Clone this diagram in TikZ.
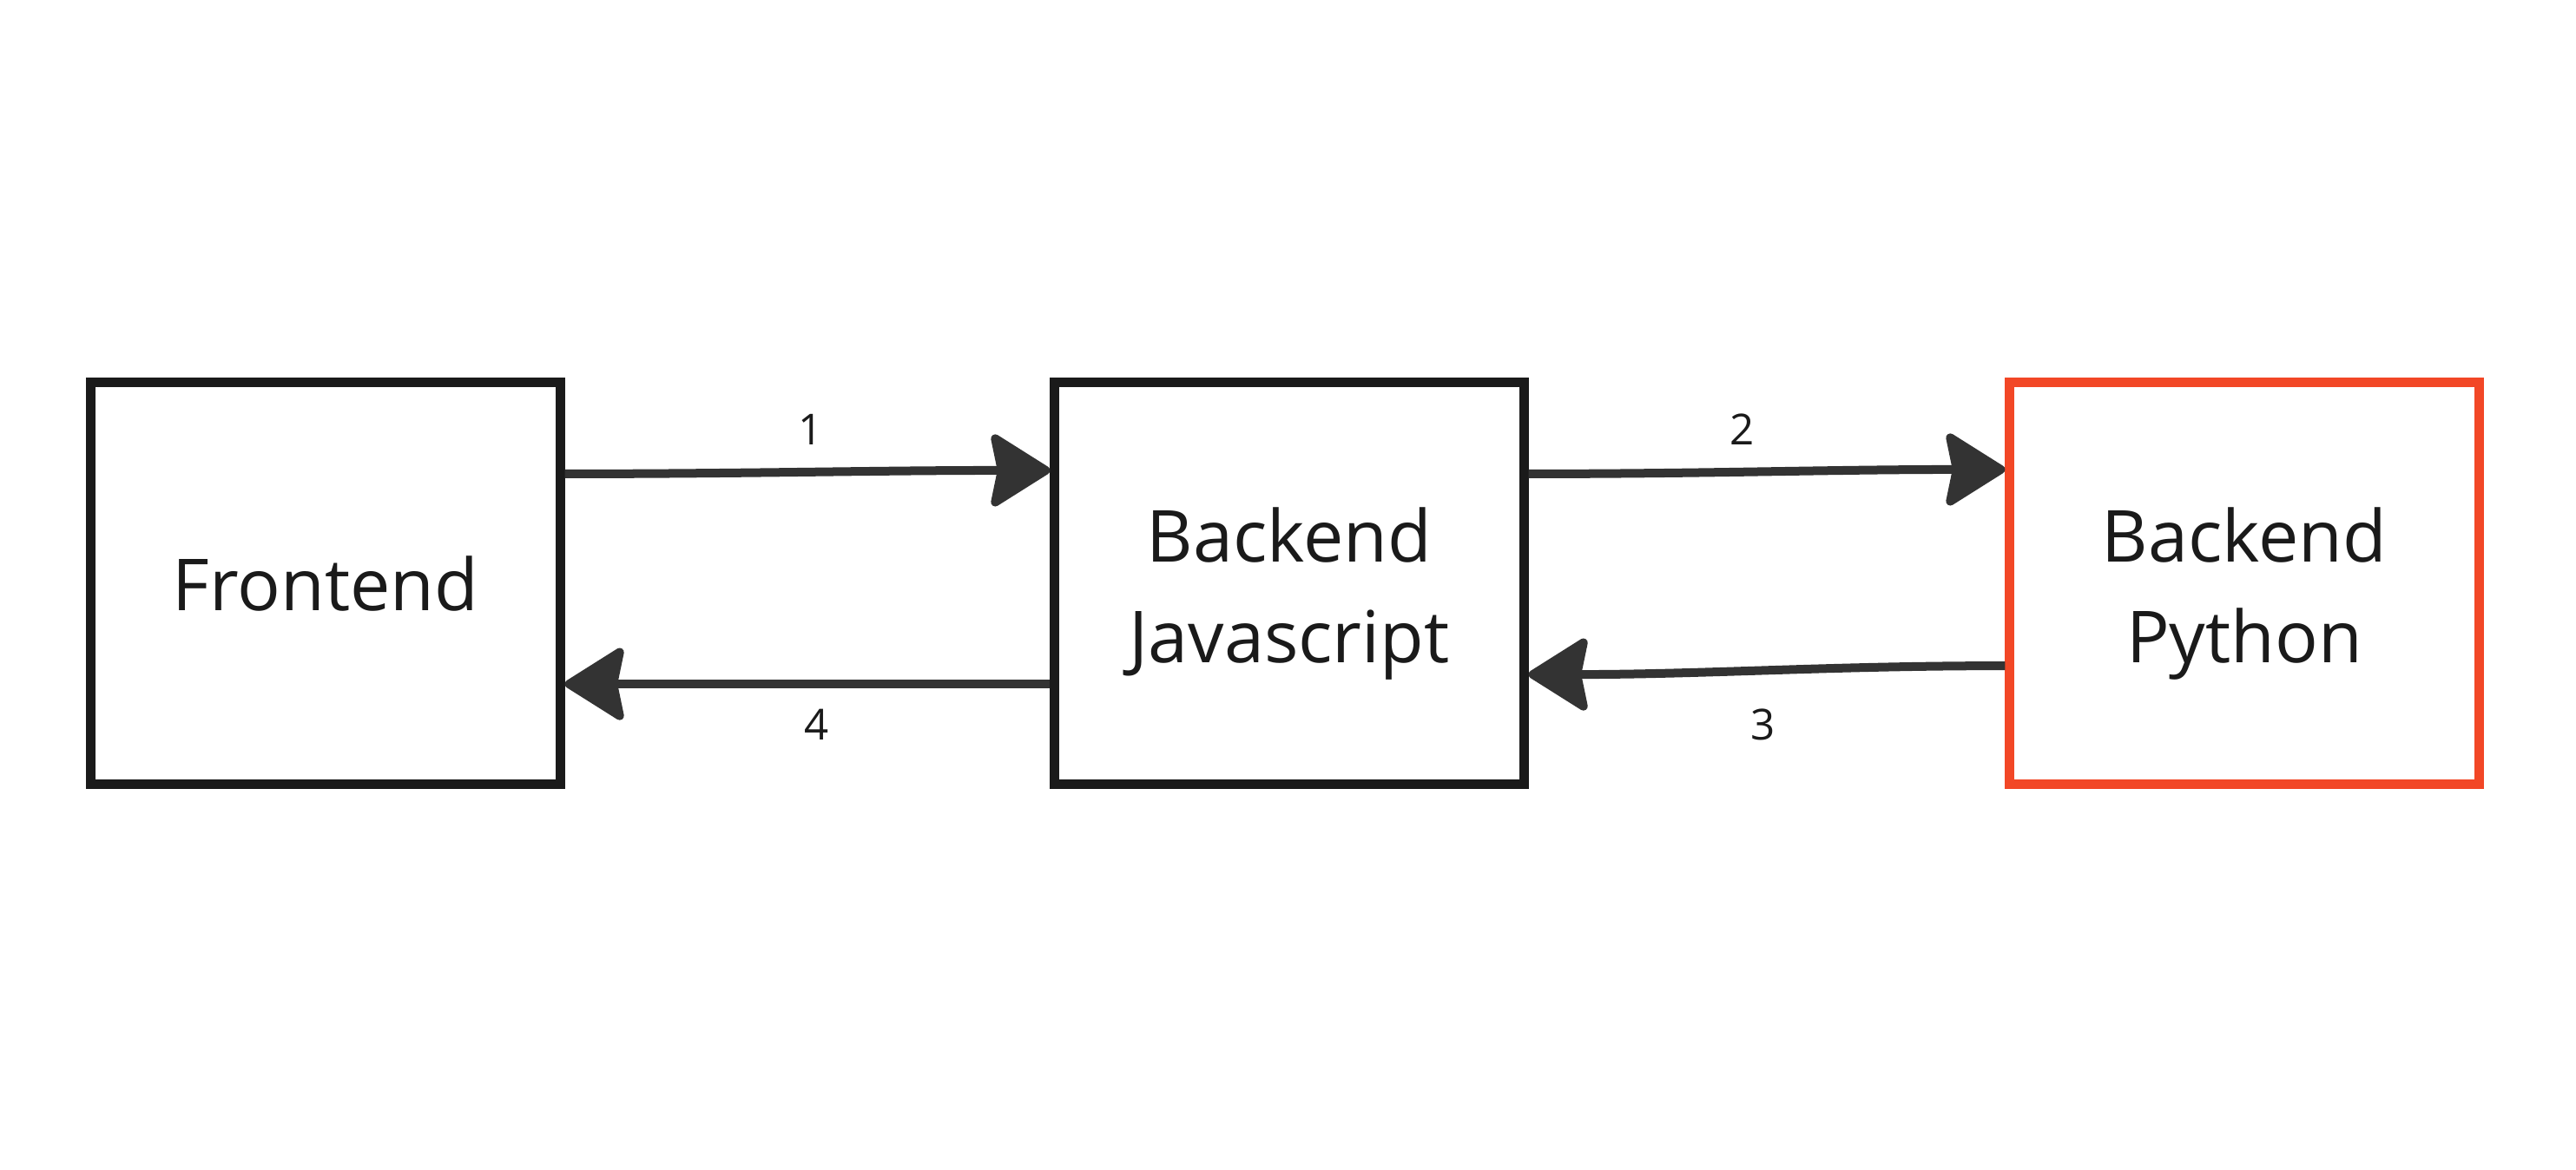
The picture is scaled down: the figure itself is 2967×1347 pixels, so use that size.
\documentclass[tikz,border=0pt]{standalone}
\usepackage{fontspec}
\setmainfont{Open Sans}
\usetikzlibrary{arrows.meta}
\definecolor{boxline}{HTML}{1A1A1A}
\definecolor{arrowline}{HTML}{333333}
\definecolor{pyred}{HTML}{F24726}
\newcommand{\twolines}[2]{\raisebox{-0.1cm}[\height][\depth]{\begin{tabular}{@{}c@{}}#1\\#2\end{tabular}}}

\begin{document}
\begin{tikzpicture}[x=0.01cm,y=-0.01cm,every node/.style={inner sep=0pt},
    comp/.style={draw=boxline,line width=0.11cm,rectangle,text=boxline,
    minimum width=5.4cm,minimum height=4.62cm,align=center,
    font=\fontsize{23.5}{33}\selectfont},
    flow/.style={draw=arrowline,line width=0.1cm,
    -{Stealth[length=0.74cm,width=0.92cm,inset=0.09cm,round]}},
    num/.style={font=\fontsize{14}{16}\selectfont,text=boxline}]
  \useasboundingbox (0,0) rectangle (2967,1347);

  \node[comp] (fe) at (375,672) {Frontend};
  \node[comp] (js) at (1485,672) {\twolines{Backend}{Javascript}};
  \node[comp,draw=pyred] (py) at (2585,672) {\twolines{Backend}{Python}};

  \draw[flow] ([yshift=1.26cm]fe.east) .. controls +(200,0) and +(-200,0) .. ([yshift=1.30cm]js.west);
  \draw[flow] ([yshift=1.26cm]js.east) .. controls +(200,0) and +(-200,0) .. ([yshift=1.31cm]py.west);
  \draw[flow] ([yshift=-0.95cm]py.west) .. controls +(-200,0) and +(200,0) .. ([yshift=-1.05cm]js.east);
  \draw[flow] ([yshift=-1.16cm]js.west) -- ([yshift=-1.16cm]fe.east);

  \node[num] (n1) at (934,495) {1};
  \node[num] (n2) at (2007,495) {2};
  \node[num] (n3) at (2031,835) {3};
  \node[num] (n4) at (941,835) {4};
\end{tikzpicture}
\end{document}
